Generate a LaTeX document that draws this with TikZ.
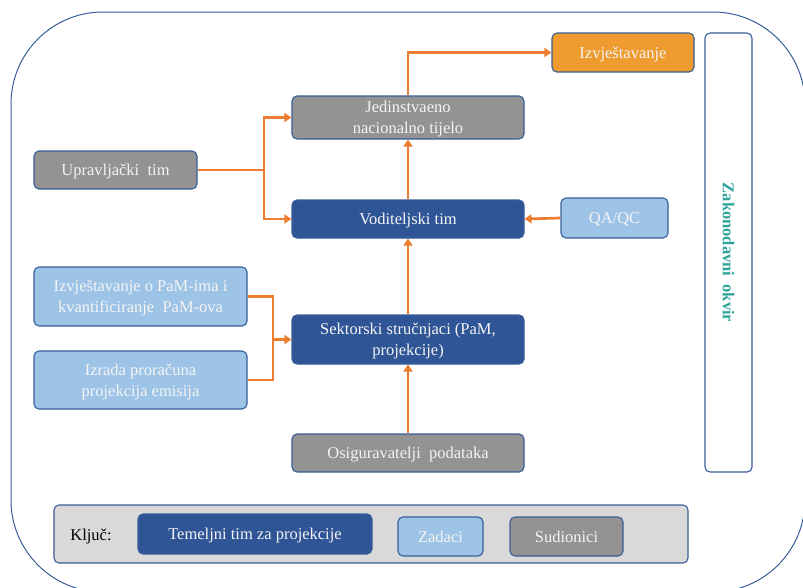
\documentclass[tikz,border=0pt]{standalone}
\usepackage{fontspec}
\setmainfont{LiberationSerif}[Extension=.ttf, UprightFont=*-Regular, BoldFont=*-Bold, ItalicFont=*-Italic, BoldItalicFont=*-BoldItalic]
\usetikzlibrary{arrows.meta}
\definecolor{dkblue}{HTML}{2F5597}
\definecolor{ltblue}{HTML}{9DC3E6}
\definecolor{gry}{HTML}{939393}
\definecolor{orng}{HTML}{EE9B2F}
\definecolor{arr}{HTML}{ED7D31}
\definecolor{edge}{HTML}{385D98}
\definecolor{tealtx}{HTML}{2EA39A}
\definecolor{txt}{HTML}{F4F4F4}
\tikzset{
  box/.style={draw=edge, line width=1.1pt, rounded corners=5pt, text=txt, align=center,
    font=\fontsize{16.5}{21}\selectfont, inner sep=0pt, text depth=0pt},
  dark/.style={box, fill=dkblue},
  light/.style={box, fill=ltblue},
  grey/.style={box, fill=gry},
  orbox/.style={box, fill=orng},
  conn/.style={draw=arr, line width=2.7pt},
  arw/.style={conn, -{Triangle[width=9pt,length=7pt]}},
}
\begin{document}
\begin{tikzpicture}[x=1pt,y=-1pt]
\useasboundingbox (0,0) rectangle (803,587);
\begin{scope}
\clip (0,0) rectangle (803,587);
\draw[edge, line width=1pt, rounded corners=92pt] (11,12) rectangle (805,592);
\end{scope}
% main nodes
\node[orbox, minimum width=142pt, minimum height=39pt] (izv) at (623,52.5) {Izvještavanje};
\node[box, fill=white, minimum width=47pt, minimum height=439pt] (zak) at (728.5,252.5) {};
\node[rotate=-90, text=tealtx, font=\fontsize{16.5}{21}\selectfont\bfseries] (zakt) at (728.5,252.5) {Zakonodavni\ \ okvir};
\node[grey, minimum width=232pt, minimum height=43pt] (jed) at (408,117.5) {Jedinstvaeno\\nacionalno tijelo};
\node[dark, minimum width=232pt, minimum height=38pt] (vod) at (408,219) {Voditeljski tim};
\node[light, minimum width=107pt, minimum height=40pt] (qa) at (614.5,218) {QA/QC};
\node[grey, minimum width=163pt, minimum height=38pt] (upr) at (115.5,170) {Upravljački\ \ tim};
\node[light, minimum width=213pt, minimum height=59pt] (pam) at (140.5,296.5) {Izvještavanje o PaM-ima i\\kvantificiranje\ \ PaM-ova};
\node[light, minimum width=213pt, minimum height=58pt] (izr) at (140.5,380) {Izrada proračuna\\projekcija emisija};
\node[dark, minimum width=232pt, minimum height=49pt] (sek) at (408,339.5) {Sektorski stručnjaci (PaM,\\projekcije)};
\node[grey, minimum width=232pt, minimum height=38pt] (osi) at (408,453) {Osiguravatelji\ \ podataka};
% legend
\node[box, fill=black!15, minimum width=634pt, minimum height=58pt] (leg) at (371,534) {};
\node[font=\fontsize{16.5}{21}\selectfont, text depth=0pt] (klj) at (91,535) {Ključ:};
\node[dark, minimum width=234pt, minimum height=40pt] (tem) at (255,534) {Temeljni tim za projekcije};
\node[light, minimum width=85pt, minimum height=39pt] (zad) at (440.5,536.5) {Zadaci};
\node[grey, minimum width=113pt, minimum height=39pt] (sud) at (566.5,536.5) {Sudionici};
% connectors
\coordinate (j1) at (264,170);
\coordinate (j2) at (273,339.5);
\draw[conn] (upr.east) -- (j1);
\draw[arw] (j1) |- (jed.west);
\draw[arw] (j1) |- (vod.west);
\draw[conn] (pam.east) -| (j2);
\draw[conn] (izr.east) -| (j2);
\draw[arw] (j2) -- (sek.west);
\draw[arw] (osi.north) -- (sek.south);
\draw[arw] (sek.north) -- (vod.south);
\draw[arw] (vod.north) -- (jed.south);
\draw[arw] (jed.north) |- (izv.west);
\draw[arw] (qa.west) -- (vod.east);
\end{tikzpicture}
\end{document}
